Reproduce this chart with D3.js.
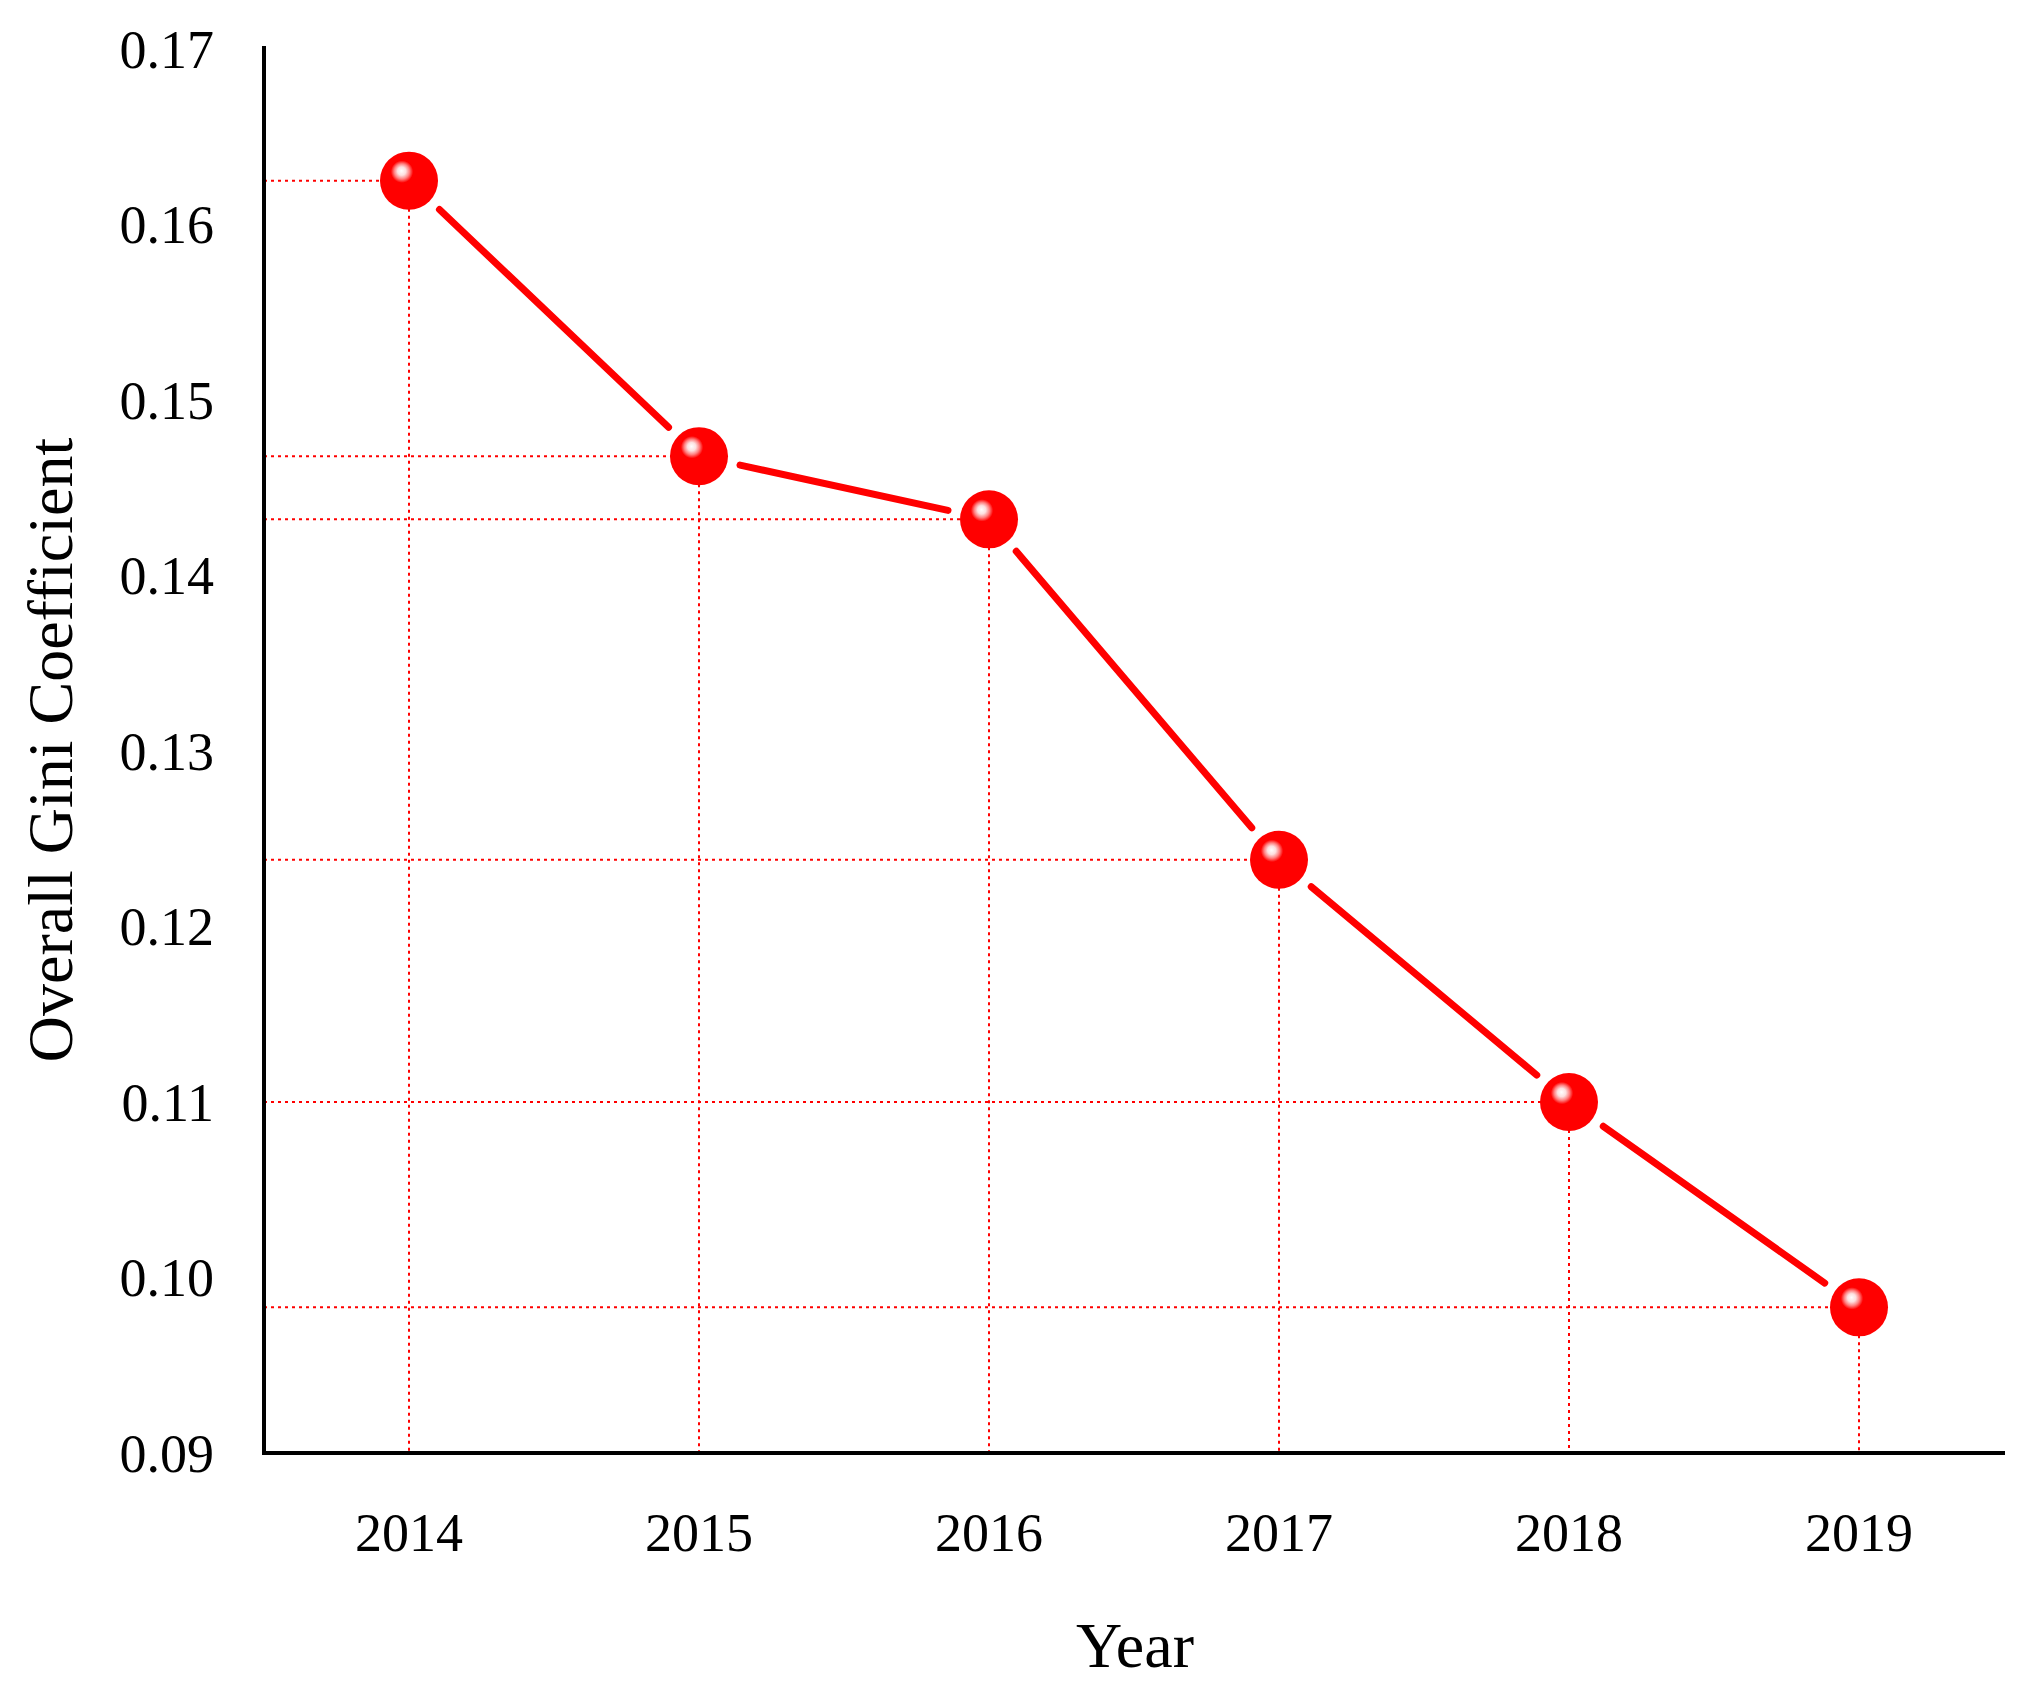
<!DOCTYPE html>
<html><head><meta charset="utf-8">
<script src="https://cdn.jsdelivr.net/npm/d3@7"></script>
<style>body{margin:0;background:#fff}</style></head>
<body><svg id="c" width="2028" height="1686"></svg>
<script>
const years = ["2014","2015","2016","2017","2018","2019"];
const gini = [0.1625, 0.1468, 0.1432, 0.1238, 0.1100, 0.0983];
const yTicks = [0.09,0.10,0.11,0.12,0.13,0.14,0.15,0.16,0.17];

const svg = d3.select("#c");
const font = "Liberation Serif, Times New Roman, serif";
const L=264, R=2005, T=49, B=1453;
const x = d3.scalePoint().domain(years).range([L, L+6*290]).padding(0.5);
const y = d3.scaleLinear().domain([0.09,0.17]).range([B,T]);

const defs = svg.append("defs");
const g = defs.append("radialGradient").attr("id","ball").attr("cx","40%").attr("cy","38%").attr("r","60%").attr("fx","37%").attr("fy","33%");
g.append("stop").attr("offset","0%").attr("stop-color","#fff");
g.append("stop").attr("offset","12%").attr("stop-color","#fde0e0");
g.append("stop").attr("offset","22%").attr("stop-color","#ff8080");
g.append("stop").attr("offset","32%").attr("stop-color","#ff0000");
g.append("stop").attr("offset","100%").attr("stop-color","#ff0000");

const data = years.map((yr,i)=>({yr, v:gini[i]}));
// dotted guides
svg.selectAll(".h").data(data).enter().append("line")
 .attr("x1",L).attr("x2",d=>x(d.yr)).attr("y1",d=>y(d.v)).attr("y2",d=>y(d.v))
 .attr("stroke","#ff0000").attr("stroke-width",2).attr("stroke-dasharray","3,4");
svg.selectAll(".v").data(data).enter().append("line")
 .attr("x1",d=>x(d.yr)).attr("x2",d=>x(d.yr)).attr("y1",d=>y(d.v)).attr("y2",B)
 .attr("stroke","#ff0000").attr("stroke-width",2).attr("stroke-dasharray","3,4");

// line segments with gaps near markers
const gap = 42;
for(let i=0;i<data.length-1;i++){
  const x1=x(data[i].yr), y1=y(data[i].v), x2=x(data[i+1].yr), y2=y(data[i+1].v);
  const dx=x2-x1, dy=y2-y1, len=Math.hypot(dx,dy), ux=dx/len, uy=dy/len;
  svg.append("line").attr("x1",x1+ux*gap).attr("y1",y1+uy*gap).attr("x2",x2-ux*gap).attr("y2",y2-uy*gap)
   .attr("stroke","#ff0000").attr("stroke-width",7).attr("stroke-linecap","round");
}
svg.selectAll(".m").data(data).enter().append("circle")
 .attr("cx",d=>x(d.yr)).attr("cy",d=>y(d.v)).attr("r",29).attr("fill","url(#ball)");

// axes
svg.append("line").attr("x1",L).attr("x2",L).attr("y1",T-3).attr("y2",B).attr("stroke","#000").attr("stroke-width",4);
svg.append("line").attr("x1",L-2).attr("x2",R).attr("y1",B).attr("y2",B).attr("stroke","#000").attr("stroke-width",4);

svg.selectAll(".yt").data(yTicks).enter().append("text")
 .attr("x",214).attr("y",d=>y(d)).attr("dy","0.35em").attr("text-anchor","end")
 .attr("font-family",font).attr("font-size",54).text(d=>d.toFixed(2));
svg.selectAll(".xt").data(years).enter().append("text")
 .attr("x",d=>x(d)).attr("y",1532).attr("dy","0.35em").attr("text-anchor","middle")
 .attr("font-family",font).attr("font-size",54).text(d=>d);
svg.append("text").attr("x",1135).attr("y",1645).attr("dy","0.35em").attr("text-anchor","middle")
 .attr("font-family",font).attr("font-size",64).text("Year");
svg.append("text").attr("transform","translate(50,750) rotate(-90)").attr("dy","0.35em").attr("text-anchor","middle")
 .attr("font-family",font).attr("font-size",64).text("Overall Gini Coefficient");
</script></body></html>
